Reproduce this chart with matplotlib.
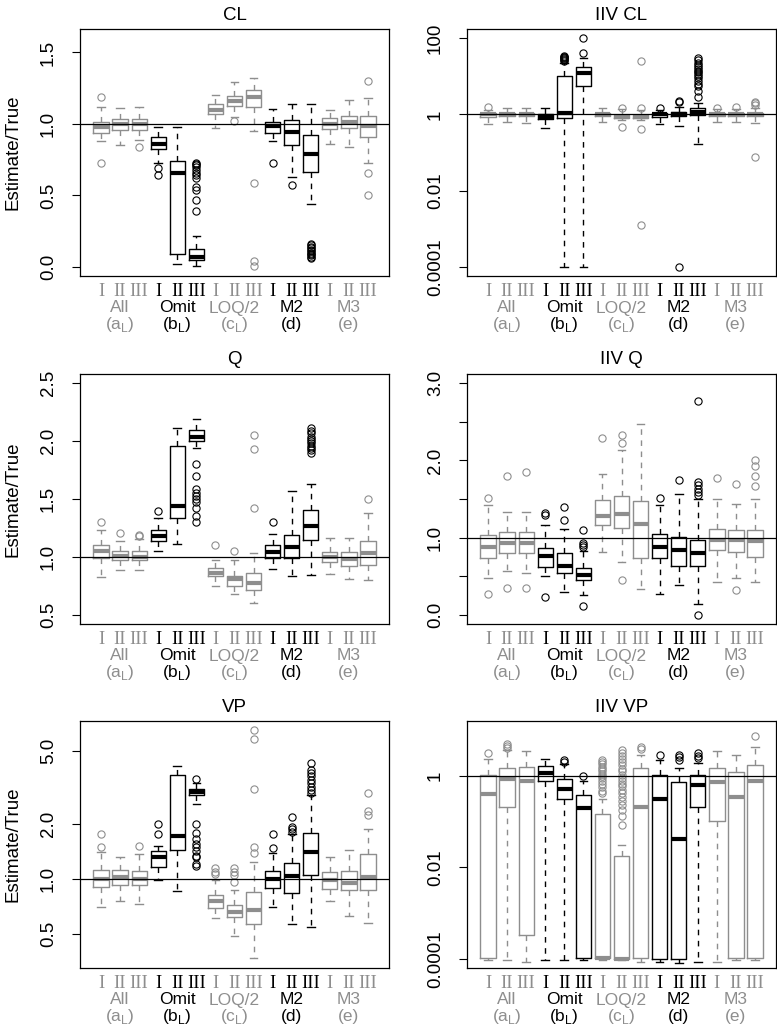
import numpy as np
import matplotlib.pyplot as plt
from matplotlib.ticker import NullLocator

plt.rcParams['font.family'] = ['Liberation Sans', 'DejaVu Sans']
plt.rcParams['mathtext.fontset'] = 'custom'
plt.rcParams['mathtext.rm'] = 'Liberation Sans'

GRAY = '#8e8e8e'

# groups along x axis, three scenarios each
groups = ['All', 'Omit', 'LOQ/2', 'M2', 'M3']
group_sub = ['(a$_{\\mathregular{L}}$)', '(b$_{\\mathregular{L}}$)', '(c$_{\\mathregular{L}}$)', '(d)', '(e)']
group_colors = [GRAY, 'black', GRAY, 'black', GRAY]
scenarios = ['I', 'II', 'III']

# CL
cl_lo = [0.88, 0.85, 0.885, 0.725, 0.02, 0.007, 0.97, 1.05, 0.95, 0.883, 0.626, 0.44, 0.862, 0.84, 0.73]
cl_q1 = [0.937, 0.96, 0.96, 0.825, 0.09, 0.05, 1.072, 1.128, 1.117, 0.935, 0.85, 0.666, 0.965, 0.972, 0.91]
cl_med = [0.98, 1.0, 1.0, 0.862, 0.656, 0.072, 1.10, 1.16, 1.187, 0.984, 0.944, 0.79, 1.0, 1.012, 0.984]
cl_q3 = [1.014, 1.035, 1.035, 0.91, 0.74, 0.126, 1.14, 1.196, 1.234, 1.016, 1.026, 0.92, 1.04, 1.054, 1.054]
cl_hi = [1.117, 1.11, 1.12, 0.975, 0.975, 0.217, 1.205, 1.294, 1.322, 1.107, 1.14, 1.14, 1.10, 1.17, 1.18]
cl_out = [[1.19, 0.73], [], [0.835], [0.69, 0.64], [],
          [0.73, 0.72, 0.71, 0.70, 0.68, 0.66, 0.64, 0.62, 0.56, 0.54, 0.47, 0.39],
          [], [1.02], [0.584, 0.042, 0.003], [0.73], [0.57],
          [0.16, 0.15, 0.14, 0.13, 0.12, 0.11, 0.10, 0.09, 0.08, 0.07, 0.06],
          [], [], [1.30, 0.656, 0.505]]

# IIV CL
iivcl_lo = [0.575, 0.62, 0.60, 0.43, 1e-4, 1e-4, 0.62, 0.70, 0.70, 0.575, 0.49, 0.166, 0.62, 0.62, 0.60]
iivcl_q1 = [0.87, 0.89, 0.89, 0.74, 0.79, 5.6, 0.91, 0.80, 0.78, 0.87, 0.93, 0.95, 0.91, 0.91, 0.89]
iivcl_med = [1.0, 1.0, 1.0, 0.87, 1.1, 12.3, 1.0, 0.87, 0.83, 1.0, 1.02, 1.17, 1.0, 1.0, 1.02]
iivcl_q3 = [1.12, 1.12, 1.12, 1.0, 10.0, 17.8, 1.1, 0.98, 0.98, 1.1, 1.14, 1.51, 1.1, 1.1, 1.12]
iivcl_hi = [1.32, 1.48, 1.51, 1.45, 21.9, 29.5, 1.48, 1.35, 1.3, 1.3, 1.6, 2.0, 1.35, 1.35, 1.5]
iivcl_out = [[1.58], [], [], [], [25, 27, 29, 30, 32, 33, 35], [40, 100], [], [1.51, 0.457],
             [1.51, 0.42, 25, 0.00126], [1.51], [2.24, 2.09, 1e-4],
             [2.9, 4.0, 5.4, 6.3, 7.4, 8.9, 10, 11.2, 12.6, 14.1, 15.8, 17.8, 20, 22.4, 26.3, 29.5],
             [1.51], [1.58], [2.14, 1.95, 1.78, 0.078]]

# Q
q_lo = [0.83, 0.886, 0.886, 1.047, 1.114, 1.94, 0.75, 0.677, 0.60, 0.892, 0.837, 0.84, 0.85, 0.81, 0.80]
q_q1 = [0.988, 0.974, 0.974, 1.14, 1.335, 1.998, 0.834, 0.75, 0.718, 0.988, 0.988, 1.143, 0.96, 0.924, 0.93]
q_med = [1.052, 1.01, 1.0, 1.183, 1.44, 2.036, 0.863, 0.805, 0.77, 1.04, 1.084, 1.27, 1.0, 0.98, 1.032]
q_q3 = [1.099, 1.052, 1.052, 1.23, 1.958, 2.095, 0.901, 0.837, 0.857, 1.10, 1.19, 1.405, 1.04, 1.04, 1.134]
q_hi = [1.236, 1.14, 1.154, 1.34, 2.115, 2.19, 0.974, 0.97, 1.032, 1.2, 1.57, 1.63, 1.163, 1.163, 1.38]
q_out = [[1.30], [1.207], [1.19, 1.18], [1.40], [],
         [1.80, 1.70, 1.585, 1.556, 1.527, 1.498, 1.47, 1.425, 1.352, 1.30],
         [1.10], [1.052], [2.057, 1.935, 1.425], [1.30], [],
         [2.11, 2.09, 2.07, 2.04, 2.02, 2.0, 1.98, 1.96, 1.94, 1.92, 1.9],
         [], [], [1.50]]

# IIV Q
iivq_lo = [0.48, 0.569, 0.54, 0.50, 0.29, 0.25, 0.818, 0.687, 0.337, 0.27, 0.38, 0.14, 0.424, 0.477, 0.424]
iivq_q1 = [0.73, 0.796, 0.796, 0.62, 0.547, 0.446, 1.16, 1.125, 0.73, 0.73, 0.63, 0.63, 0.84, 0.818, 0.744]
iivq_med = [0.884, 0.936, 0.936, 0.76, 0.635, 0.51, 1.28, 1.31, 1.18, 0.884, 0.84, 0.797, 0.963, 0.97, 0.95]
iivq_q3 = [1.037, 1.068, 1.068, 0.862, 0.796, 0.608, 1.484, 1.54, 1.48, 1.046, 1.006, 0.97, 1.116, 1.094, 1.103]
iivq_hi = [1.42, 1.335, 1.335, 1.16, 1.11, 0.827, 1.825, 2.14, 2.47, 1.42, 1.56, 1.497, 1.497, 1.44, 1.505]
iivq_out = [[1.51, 0.27], [1.80, 0.35], [1.855, 0.35], [1.32, 1.29, 0.23], [1.40, 1.234],
            [1.094, 0.936, 0.906, 0.884, 0.11], [2.29], [2.33, 2.23, 0.455], [], [1.51], [1.746],
            [2.77, 1.715, 1.68, 1.636, 1.59, 1.55, 0.0], [1.77], [1.70, 0.315],
            [2.01, 1.934, 1.794, 1.663]]

# VP
vp_lo = [0.70, 0.76, 0.73, 0.98, 0.86, 2.56, 0.615, 0.485, 0.369, 0.70, 0.568, 0.545, 0.76, 0.63, 0.573]
vp_q1 = [0.897, 0.927, 0.92, 1.153, 1.43, 2.87, 0.69, 0.618, 0.566, 0.89, 0.835, 1.05, 0.882, 0.864, 0.864]
vp_med = [1.0, 1.02, 1.0, 1.31, 1.72, 2.99, 0.76, 0.658, 0.677, 1.0, 1.03, 1.40, 0.988, 0.947, 1.017]
vp_q3 = [1.12, 1.12, 1.11, 1.41, 3.69, 3.08, 0.818, 0.718, 0.846, 1.11, 1.22, 1.77, 1.087, 1.11, 1.37]
vp_hi = [1.40, 1.31, 1.36, 1.52, 4.13, 3.35, 0.985, 0.87, 1.23, 1.39, 1.76, 2.87, 1.31, 1.44, 1.87]
vp_out = [[1.75, 1.49], [], [1.51], [2.0, 1.76], [],
          [3.5, 2.0, 1.77, 1.64, 1.55, 1.49, 1.41, 1.33, 1.31, 1.20, 1.17],
          [1.14, 1.083, 1.06], [1.15, 1.09, 1.05, 0.96], [6.5, 5.78, 3.08, 1.49, 1.39],
          [1.75, 1.48], [2.17, 1.93, 1.87, 1.81],
          [4.27, 3.93, 3.77, 3.62, 3.47, 3.32, 3.19, 3.06, 2.93],
          [], [], [2.93, 2.35, 2.22]]

# IIV VP
iivvp_lo = [9.3e-5, 9.3e-5, 8.7e-5, 9.5e-5, 9.3e-5, 9.5e-5, 9.5e-5, 9.5e-5, 8.7e-5, 8.7e-5, 8.1e-5, 8.7e-5, 8.7e-5, 9.5e-5, 9.5e-5]
iivvp_q1 = [1.07e-4, 0.204, 3.4e-4, 0.79, 0.32, 1.05e-4, 1.02e-4, 1.0e-4, 1.05e-4, 1.0e-4, 1.0e-4, 0.214, 0.105, 1.07e-4, 1.07e-4]
iivvp_med = [0.41, 0.85, 0.76, 1.17, 0.51, 0.195, 1.02e-4, 1.0e-4, 0.204, 0.31, 0.042, 0.63, 0.72, 0.34, 0.76]
iivvp_q3 = [1.05, 1.48, 1.55, 1.66, 0.85, 0.38, 0.15, 0.0178, 1.48, 1.05, 0.72, 1.02, 1.48, 1.23, 1.74]
iivvp_hi = [2.34, 3.7, 3.55, 2.34, 1.82, 0.76, 0.316, 0.031, 2.9, 2.24, 1.51, 1.9, 3.55, 2.9, 4.2]
iivvp_out = [[3.16], [5.1, 4.6, 4.0], [], [], [2.24, 2.0], [1.0],
             [2.24, 2.0, 1.78, 1.58, 1.41, 1.26, 1.12, 1.0, 0.89, 0.79, 0.68, 0.56, 0.47, 0.42],
             [3.7, 3.2, 2.7, 2.3, 2.0, 1.7, 1.45, 1.26, 1.07, 0.91, 0.79, 0.68, 0.59, 0.5, 0.43,
              0.35, 0.28, 0.23, 0.178, 0.13, 0.085],
             [4.2, 3.8], [2.9], [2.9, 2.57, 2.24], [3.16, 2.75, 2.5], [], [], [7.4]]

FS = 13.5
PX = 0.72  # pixels -> points at dpi 100


def draw(ax, lo, q1, med, q3, hi, out, title, ylim, ticks, labels, log=False, ylabel=False):
    stats = [dict(whislo=lo[i], q1=q1[i], med=med[i], q3=q3[i], whishi=hi[i], fliers=out[i])
             for i in range(15)]
    if log:
        ax.set_yscale('log')
    for g in range(5):
        c = group_colors[g]
        idx = list(range(g * 3, g * 3 + 3))
        ax.bxp([stats[i] for i in idx], positions=[i + 1 for i in idx], widths=0.8,
               manage_ticks=False,
               boxprops=dict(color=c, lw=1.0),
               whiskerprops=dict(color=c, lw=1.0, linestyle=(0, (4, 4))),
               capprops=dict(color=c, lw=1.0),
               medianprops=dict(color=c, lw=3.0, solid_capstyle='butt'),
               flierprops=dict(marker='o', mfc='none', mec=c, ms=5.2, mew=0.8))
    ax.axhline(1, color='black', lw=0.9, zorder=5)
    ax.set_xlim(-0.1, 16.1)
    ax.set_ylim(*ylim)
    ax.set_xticks([])
    ax.set_yticks(ticks)
    ax.set_yticklabels(labels, rotation=90, va='center', fontsize=FS)
    ax.yaxis.set_minor_locator(NullLocator())
    ax.tick_params(axis='y', length=5.5, width=0.8, pad=11)
    for s in ax.spines.values():
        s.set_linewidth(0.9)
    ax.text(0.5, 1 + 14 / 247, title, transform=ax.transAxes, ha='center', va='center', fontsize=FS)
    if ylabel:
        ax.text(-0.218, 0.5, 'Estimate/True', transform=ax.transAxes, rotation=90,
                ha='center', va='center', fontsize=FS)
    # scenario numerals and group names under the axis
    for g in range(5):
        c = group_colors[g]
        for k in range(3):
            ax.annotate(scenarios[k], xy=(g * 3 + k + 1, 0), xycoords=('data', 'axes fraction'),
                        xytext=(0, -15 * PX), textcoords='offset points', ha='center', va='center',
                        color=c, fontsize=FS, family='Liberation Serif')
        ax.annotate(groups[g], xy=(g * 3 + 2, 0), xycoords=('data', 'axes fraction'),
                    xytext=(0, -32 * PX), textcoords='offset points', ha='center', va='center',
                    color=c, fontsize=12.5)
        ax.annotate(group_sub[g], xy=(g * 3 + 2, 0), xycoords=('data', 'axes fraction'),
                    xytext=(0, -48 * PX), textcoords='offset points', ha='center', va='center',
                    color=c, fontsize=12.5)


fig = plt.figure(figsize=(7.77, 10.27), dpi=100)
W, H = 777, 1027
cols = [80, 467]
aw = 309
rows = [(29, 276), (374, 624), (721, 968)]


def make_ax(col, row):
    top, bot = rows[row]
    return fig.add_axes([cols[col] / W, 1 - bot / H, aw / W, (bot - top) / H])


ax = make_ax(0, 0)
draw(ax, cl_lo, cl_q1, cl_med, cl_q3, cl_hi, cl_out, 'CL', (-0.064, 1.664),
     [0, 0.5, 1.0, 1.5], ['0.0', '0.5', '1.0', '1.5'], ylabel=True)

ax = make_ax(1, 0)
draw(ax, iivcl_lo, iivcl_q1, iivcl_med, iivcl_q3, iivcl_hi, iivcl_out, 'IIV CL',
     (10 ** -4.24, 10 ** 2.24), [1e-4, 1e-2, 1, 100], ['0.0001', '0.01', '1', '100'], log=True)

ax = make_ax(0, 1)
draw(ax, q_lo, q_q1, q_med, q_q3, q_hi, q_out, 'Q', (0.42, 2.58),
     [0.5, 1.0, 1.5, 2.0, 2.5], ['0.5', '1.0', '1.5', '2.0', '2.5'], ylabel=True)

ax = make_ax(1, 1)
draw(ax, iivq_lo, iivq_q1, iivq_med, iivq_q3, iivq_hi, iivq_out, 'IIV Q', (-0.12, 3.12),
     [0, 0.5, 1.0, 1.5, 2.0, 2.5, 3.0], ['0.0', '', '1.0', '', '2.0', '', '3.0'])

ax = make_ax(0, 2)
draw(ax, vp_lo, vp_q1, vp_med, vp_q3, vp_hi, vp_out, 'VP', (0.326, 7.27),
     [0.5, 1.0, 2.0, 5.0], ['0.5', '1.0', '2.0', '5.0'], log=True, ylabel=True)

ax = make_ax(1, 2)
draw(ax, iivvp_lo, iivvp_q1, iivvp_med, iivvp_q3, iivvp_hi, iivvp_out, 'IIV VP',
     (10 ** -4.2, 10 ** 1.2), [1e-4, 1e-2, 1], ['0.0001', '0.01', '1'], log=True)

fig.savefig('out.png', dpi=100)
